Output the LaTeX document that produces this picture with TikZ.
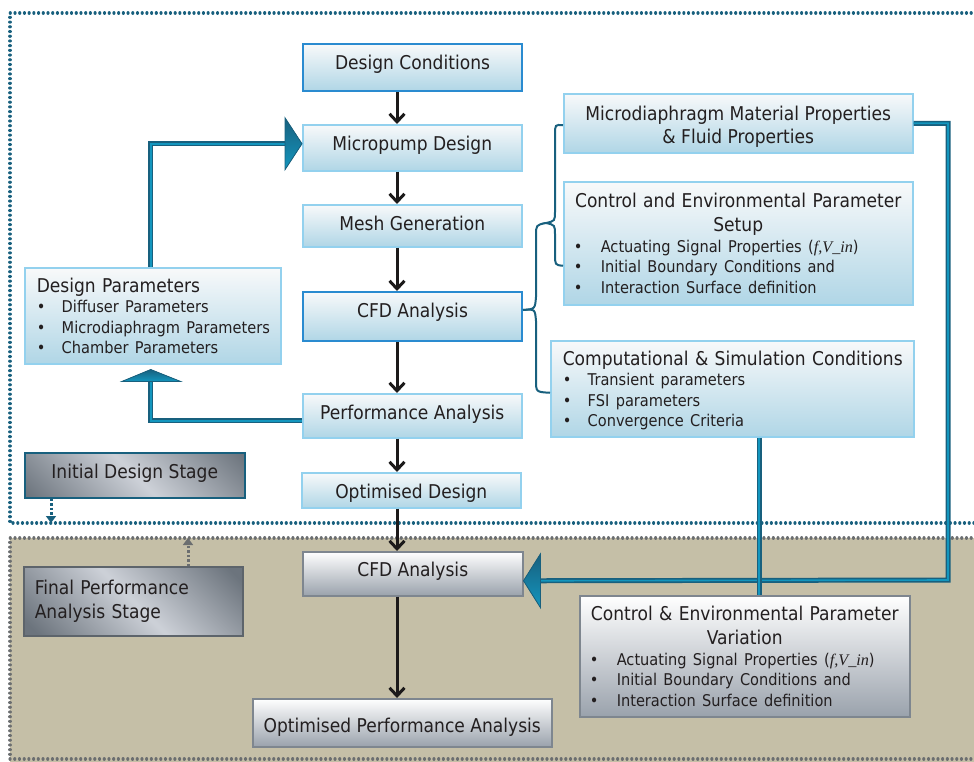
\documentclass[tikz,border=0pt]{standalone}
\usepackage{fontspec}
\setmainfont{DejaVu Sans}[FakeStretch=0.9]
\newfontfamily\tnr{Liberation Serif}
\usetikzlibrary{arrows.meta}
\setlength{\parindent}{0pt}

\definecolor{txt}{HTML}{231F20}
\definecolor{boxtop}{HTML}{F8F9FA}
\definecolor{boxbot}{HTML}{B0D6E6}
\definecolor{bluelt}{HTML}{93D1EE}
\definecolor{bluedk}{HTML}{2A8BD0}
\definecolor{grayedge}{HTML}{7E868F}
\definecolor{graybot}{HTML}{9AA2AC}
\definecolor{stagegray}{HTML}{5D646B}
\definecolor{tealD}{HTML}{18607E}
\definecolor{tealL}{HTML}{1396BE}
\definecolor{tan}{HTML}{C5BFA7}
\definecolor{dotgray}{HTML}{6B6E70}
\definecolor{flowc}{HTML}{1C1A1A}
\definecolor{mdark}{HTML}{6C747D}
\definecolor{mlight}{HTML}{CDD1D8}

\pgfdeclareverticalshading{metal}{100bp}{color(0bp)=(mdark); color(31bp)=(mdark); color(50bp)=(mlight); color(69bp)=(mdark); color(100bp)=(mdark)}

% title line and bullet line inside the multi-line boxes
\newcommand\hd[1]{{\fontsize{19}{24}\selectfont\mbox{#1}\par}}
\newcommand\ctr[1]{{\centering\fontsize{19}{24}\selectfont #1\par}}
\newcommand\blt[1]{{\fontsize{16.2}{20.5}\selectfont\mbox{\makebox[25pt][l]{\textbullet}#1}\par}}
\newcommand\fv{({\tnr\itshape f,V\_in})}

\begin{document}
\begin{tikzpicture}[x=1pt,y=-1pt,
  every node/.style={text=txt},
  bluebox/.style={draw=bluelt, line width=1.5pt, top color=boxtop, bottom color=boxbot,
    anchor=north west, inner sep=0pt, font=\fontsize{19}{23}\selectfont},
  bluekey/.style={bluebox, draw=bluedk, line width=2pt},
  graybox/.style={draw=grayedge, line width=1.5pt, top color=white, bottom color=graybot,
    anchor=north west, inner sep=0pt, font=\fontsize{19}{23}\selectfont},
  stagebox/.style={line width=1.5pt, anchor=north west, inner sep=0pt,
    font=\fontsize{19}{24}\selectfont,
    path picture={\shade[shading=metal, shading angle=-45]
      ([shift={(-120pt,-120pt)}]path picture bounding box.center) rectangle
      ([shift={(120pt,120pt)}]path picture bounding box.center);}},
  % vertical placement of a one-line label: text height and depth
  lbl/.style 2 args={text height=#1pt, text depth=#2pt},
  flow/.style={draw=flowc, line width=3pt, -{Straight Barb[length=8pt,width=15pt]}},
  tube/.style={draw=tealL, line width=1.6pt, preaction={draw=tealD, line width=5pt}},
  head/.style={top color=tealD, bottom color=tealL, draw=tealD, line width=0.8pt},
  brace/.style={draw=tealD, line width=2pt},
  dotline/.style={line width=3.2pt, line cap=round, dash pattern=on 0.01pt off 4.7pt},
  dotarrow/.style={line width=3pt, dash pattern=on 2.5pt off 2pt, -{Triangle[length=7pt,width=10pt]}}
]
\useasboundingbox (0,0) rectangle (974,761);

% stage regions
\fill[tan] (10,538) rectangle (990,770);
\draw[dotline, dotgray] (990,538) -- (10,538) -- (10,759) -- (990,759);
\draw[dotline, tealD] (990,13) -- (10,13) -- (10,523) -- (990,523);

% main flow
\node[bluekey, lbl={14}{9.2}, minimum width=219pt, minimum height=47pt] (dc) at (302,43) {Design Conditions};
\node[bluebox, lbl={14}{8.2}, minimum width=219pt, minimum height=46pt] (mpd) at (302,124) {Micropump Design};
\node[bluebox, lbl={14}{4.2}, minimum width=219pt, minimum height=42pt] (mg) at (302,204) {Mesh Generation};
\node[bluekey, lbl={14}{11.2}, minimum width=219pt, minimum height=49pt] (cfd) at (302,291) {CFD Analysis};
\node[bluebox, lbl={14}{6.2}, minimum width=219pt, minimum height=44pt] (pa) at (302,393) {Performance Analysis};
\node[bluebox, lbl={20}{3.2}, minimum width=219pt, minimum height=35pt] (od) at (301,472) {Optimised Design};

% inputs of the CFD analysis
\node[bluebox, minimum width=349pt, minimum height=59pt, align=center] (mm) at (563,93)
  {\rule{0pt}{20.5pt}Microdiaphragm Material Properties\\ \& Fluid Properties};
\node[bluebox, minimum height=123pt, text width=329pt, inner xsep=10pt] (ces) at (563,181)
  {\ctr{\mbox{Control and Environmental Parameter}\\ Setup}%
   \blt{\hspace{2pt}Actuating Signal Properties \fv}%
   \blt{\hspace{2pt}Initial Boundary Conditions and}%
   \blt{\hspace{2pt}Interaction Surface definition}};
\node[bluebox, minimum height=96pt, text width=339pt, inner xsep=12pt] (csc) at (550,340)
  {\hd{\rule{0pt}{18pt}Computational \& Simulation Conditions}%
   \blt{Transient parameters}%
   \blt{FSI parameters}%
   \blt{Convergence Criteria}};
\node[bluebox, minimum height=96pt, text width=232pt, inner xsep=12pt] (dp) at (24,267)
  {\hd{Design Parameters}%
   \blt{Diffuser Parameters}%
   \blt{Microdiaphragm Parameters}%
   \blt{Chamber Parameters}};

% stage labels
\node[stagebox, draw=tealD, lbl={14}{7.2}, minimum width=220pt, minimum height=45pt] (ids) at (24,452) {Initial Design Stage};
\node[stagebox, draw=stagegray, minimum height=69pt, text width=197pt, inner xsep=11pt] (fpas) at (23,566)
  {Final Performance\\ Analysis Stage};

% final performance analysis
\node[graybox, lbl={14}{8.2}, minimum width=220pt, minimum height=44pt] (cfdb) at (302,551) {CFD Analysis};
\node[graybox, lbl={20}{0.2}, minimum width=299pt, minimum height=48pt] (opa) at (252,698) {Optimised Performance Analysis};
\node[graybox, minimum height=121pt, text width=310pt, inner xsep=10pt] (cev) at (579,595)
  {\ctr{\mbox{Control \& Environmental Parameter}\\ Variation}%
   \blt{\hspace{2pt}Actuating Signal Properties \fv}%
   \blt{\hspace{2pt}Initial Boundary Conditions and}%
   \blt{\hspace{2pt}Interaction Surface definition}};

% flow arrows
\coordinate (ax) at (397,0);
\draw[flow] (dc.south -| ax) -- (mpd.north -| ax);
\draw[flow] (mpd.south -| ax) -- (mg.north -| ax);
\draw[flow] (mg.south -| ax) -- (cfd.north -| ax);
\draw[flow] (cfd.south -| ax) -- (pa.north -| ax);
\draw[flow] (pa.south -| ax) -- (od.north -| ax);
\draw[flow] (od.south -| ax) -- (cfdb.north -| ax);
\draw[flow] (cfdb.south -| ax) -- (opa.north -| ax);

% design loop
\draw[tube] ([xshift=-2pt]dp.north) |- ([xshift=-17pt,yshift=4pt]mpd.west);
\fill[head] ([yshift=4pt]mpd.west) -- ++(-17,-26) -- ++(0,52) -- cycle;
\draw[tube] ([yshift=-5pt]pa.west) -| ([xshift=-2pt,yshift=-17pt]dp.south);
\fill[head] ([xshift=-2pt,yshift=-5pt]dp.south) -- ++(-29,12) -- ++(59,0) -- cycle;

% properties and conditions feeding the final analysis
\coordinate (rc) at (948,580);
\coordinate (jx) at (759,0);
\draw[tube] (mm.east) -| (rc) -- ([xshift=17pt,yshift=-7pt]cfdb.east);
\draw[tube] (csc.south -| jx) -- (cev.north -| jx);
\fill[head] ([yshift=-7pt]cfdb.east) -- ++(17,-27) -- ++(0,54) -- cycle;

% braces
\draw[brace] ([yshift=-2pt]mm.west) .. controls (555,124.5) .. (555,135) -- (555,211)
  .. controls (555,221) .. (546,223) .. controls (555,225) .. (555,235) -- (555,254)
  .. controls (555,265) .. ([yshift=-22.5pt]ces.west);
\draw[brace] ([yshift=6.5pt]cfd.east) .. controls (535,309) .. (536,297) -- (536,236)
  .. controls (536,225) .. (546,223);
\draw[brace] ([yshift=6.5pt]cfd.east) .. controls (535,309) .. (536,321) -- (536,380)
  .. controls (536,392) .. ([yshift=-4pt]csc.west);

% stage markers
\coordinate (d1) at (51,523);
\coordinate (d2) at (188,538);
\draw[dotarrow, tealD] (ids.south -| d1) -- (d1);
\draw[dotarrow, dotgray] (fpas.north -| d2) -- (d2);
\end{tikzpicture}
\end{document}
